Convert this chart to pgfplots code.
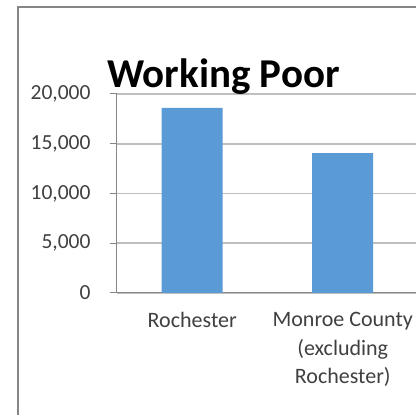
\documentclass[border=0pt]{standalone}
\usepackage{pgfplots}
\pgfplotsset{compat=1.18}
\usepackage{fontspec}
\setmainfont{Carlito}
\definecolor{barblue}{RGB}{91,155,213}
\definecolor{gridgray}{RGB}{191,191,191}
\definecolor{axgray}{RGB}{134,134,134}
\definecolor{txt}{RGB}{64,64,64}
\begin{document}
\begin{tikzpicture}[x=1pt,y=1pt]
\useasboundingbox (0,0) rectangle (416,415);
\clip (0,0) rectangle (416,415);
\fill[white] (0,0) rectangle (416,415);
\draw[axgray, line width=1.2pt] (18,-10) -- (18,408) -- (430,408);
\begin{axis}[
  at={(117pt,122pt)}, anchor=south west,
  scale only axis, width=301pt, height=199pt,
  ymin=0, ymax=20000, xmin=-0.5, xmax=1.5,
  ybar, bar width=61pt,
  axis x line*=bottom, axis y line*=left,
  axis line style={axgray, line width=1pt},
  tick align=outside,
  ytick={0,5000,10000,15000,20000},
  scaled y ticks=false,
  /pgf/number format/.cd, 1000 sep={,}, assume math mode=true, /pgfplots/.cd,
  yticklabel style={font=\fontsize{21.5}{25}\selectfont, text=txt, xshift=-16pt},
  major tick length=7pt,
  tick style={axgray, line width=1pt},
  ymajorgrids,
  major grid style={gridgray, line width=1.6pt},
  xtick={0,1},
  xticklabels={Rochester, {Monroe County\\(excluding\\Rochester)}},
  xticklabel style={font=\fontsize{22}{28.5}\selectfont, text=txt, align=center, yshift=-9pt},
  major x tick style={draw=none},
  extra x ticks={-0.5,0.5,1.5},
  extra x tick labels={},
  extra x tick style={major tick length=5pt, tick style={axgray, line width=1pt}},
  title={Working Poor},
  title style={font=\fontsize{41}{46}\selectfont\bfseries, text=black, at={(axis description cs:0.354,1)}, anchor=base, yshift=0pt, inner sep=0pt},
  clip=false,
]
\addplot[draw=none, fill=barblue] coordinates {(0,18600) (1,14050)};
\end{axis}
\end{tikzpicture}
\end{document}
